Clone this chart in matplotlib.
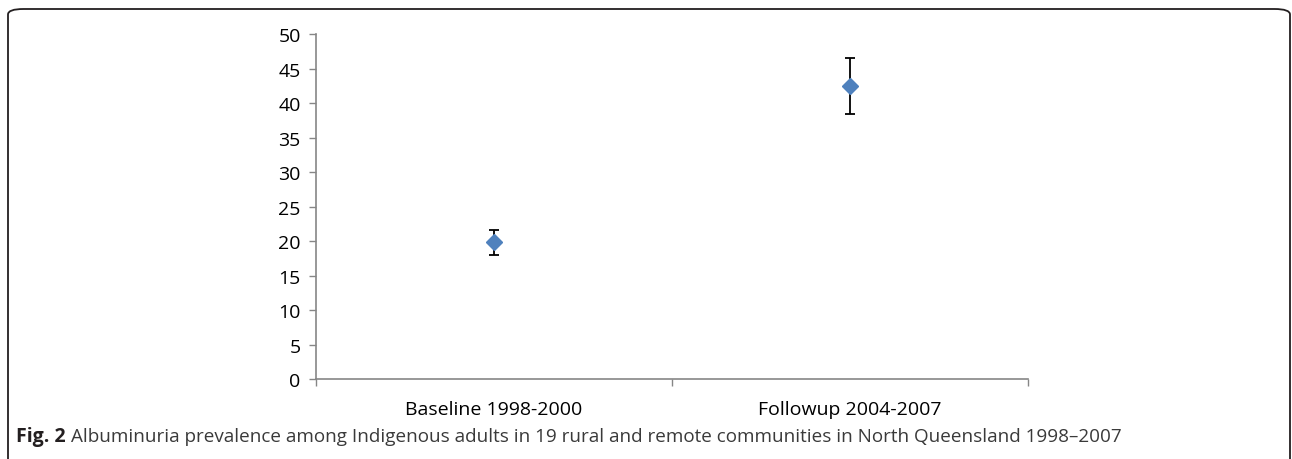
import matplotlib.pyplot as plt
from matplotlib.patches import FancyBboxPatch

periods = ['Baseline 1998-2000', 'Followup 2004-2007']
prevalence = [19.8, 42.5]
ci_low = [18.0, 38.4]
ci_high = [21.6, 46.5]

plt.rcParams['font.family'] = ['Open Sans', 'DejaVu Sans']

fig = plt.figure(figsize=(12.92, 4.6), dpi=100)
ax = fig.add_axes([0.2446, 0.1739, 0.5511, 0.75])

xs = [i + 0.5 for i in range(len(periods))]
yerr = [[p - lo for p, lo in zip(prevalence, ci_low)],
        [hi - p for p, hi in zip(prevalence, ci_high)]]
ax.errorbar(xs, prevalence, yerr=yerr, fmt='none', ecolor='black',
            elinewidth=1.3, capsize=3.6, capthick=1.3, zorder=2)
ax.plot(xs, prevalence, linestyle='none', marker='D', markersize=8.6,
        color='#4F81BD', markeredgecolor='#4F81BD', zorder=3)

ax.set_xlim(0, len(periods))
ax.set_ylim(0, 50)
ax.set_yticks(range(0, 51, 5))
ax.set_xticks(range(len(periods) + 1))
ax.set_xticklabels([])
ax.set_xticks(xs, minor=True)
ax.set_xticklabels(periods, minor=True)
ax.tick_params(axis='x', which='minor', length=0, pad=15, labelsize=14)
ax.tick_params(axis='x', which='major', length=5, color='#868686', width=1)
ax.tick_params(axis='y', length=5, color='#868686', width=1, labelsize=14, pad=6)
for s in ['top', 'right']:
    ax.spines[s].set_visible(False)
for s in ['left', 'bottom']:
    ax.spines[s].set_color('#868686')
    ax.spines[s].set_linewidth(1.2)

# rounded frame around the figure panel
box = FancyBboxPatch((8 / 1292, -0.2), 1282 / 1292, 1.2 - 10 / 460,
                     boxstyle='round,pad=0,rounding_size=0.012',
                     transform=fig.transFigure, fill=False,
                     edgecolor='#231f20', linewidth=1.3)
fig.patches.append(box)

t1 = fig.text(16 / 1292, 1 - 437 / 460, 'Fig. 2', fontsize=14, fontweight='bold',
              va='center', ha='left', color='#231f20')
ax.annotate('Albuminuria prevalence among Indigenous adults in 19 rural and remote communities in North Queensland 1998\u20132007',
            xy=(1, 0.5), xycoords=t1, xytext=(4, 0), textcoords='offset points',
            fontsize=13.6, va='center', ha='left', color='#3a3a3a',
            annotation_clip=False)

fig.savefig('out.png', dpi=100)
